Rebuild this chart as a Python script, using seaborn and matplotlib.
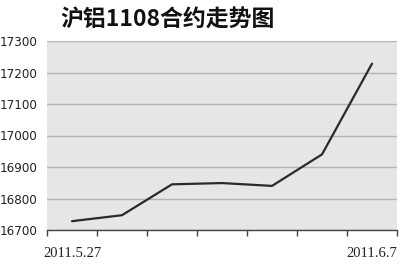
import matplotlib
matplotlib.use("Agg")
import matplotlib.pyplot as plt
import seaborn as sns
import pandas as pd
import numpy as np

title = "沪铝1108合约走势图"
dates = ["2011.5.27", "", "", "", "", "", "2011.6.7"]
prices = [16728, 16747, 16845, 16849, 16840, 16940, 17228]
yticks = [16700, 16800, 16900, 17000, 17100, 17200, 17300]

sns.set_theme(style="white")
plt.rcParams['font.family'] = ['Noto Sans CJK SC', 'DejaVu Sans']

df = pd.DataFrame({"idx": range(len(prices)), "price": prices})

fig = plt.figure(figsize=(4.0, 2.66), dpi=100)
ax = fig.add_axes([47/400, 36/266, 350/400, 189/266])
ax.set_facecolor("#e6e6e6")

sns.lineplot(data=df, x="idx", y="price", ax=ax, color="#2a2a2a", linewidth=1.6)

ax.set_ylim(yticks[0], yticks[-1])
ax.set_xlim(-0.5, len(prices) - 0.5)
ax.set_yticks(yticks)
ax.set_yticklabels([str(v) for v in yticks], family=['DejaVu Sans'], fontstretch='condensed',
                   fontsize=9.5, color="#222222")
ax.yaxis.grid(True, color="#b4b4b4", linewidth=1.0)
ax.set_axisbelow(True)

ax.set_xticks(range(len(prices)))
ax.set_xticklabels(dates, family=['Liberation Serif'], fontsize=10.5, color="#222222")
ax.set_xticks(np.arange(-0.5, len(prices), 1.0), minor=True)
ax.tick_params(axis='x', which='major', length=0, pad=12)
ax.tick_params(axis='x', which='minor', length=4, width=1, color="#444444", direction='out', bottom=True)
ax.tick_params(axis='y', length=0, pad=7)

ax.set_xlabel("")
ax.set_ylabel("")
for s in ["top", "right", "left"]:
    ax.spines[s].set_visible(False)
ax.spines["bottom"].set_color("#444444")
ax.spines["bottom"].set_linewidth(1.0)

fig.text(60/400, 1 - 20/266, title, fontsize=16.5, fontweight='bold', va='center', ha='left', color="#111111")

fig.savefig("out.png", dpi=100, facecolor="white")
